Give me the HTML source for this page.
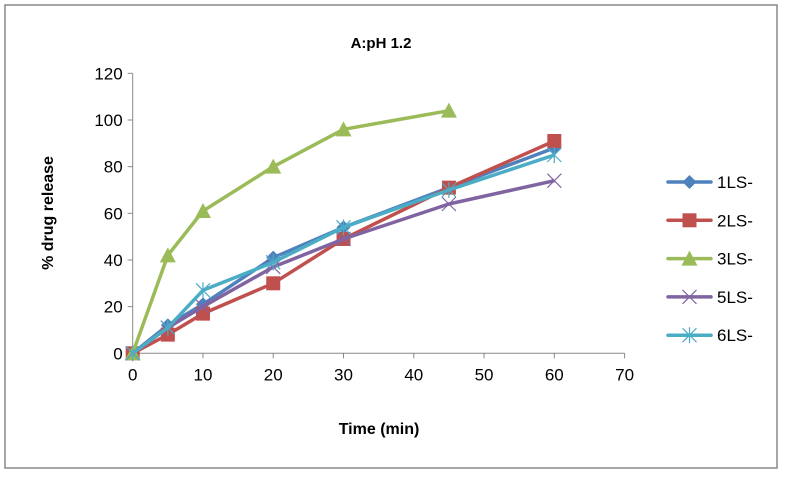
<!DOCTYPE html>
<html><head><meta charset="utf-8"><style>
body{margin:0;background:#fff;font-family:"Liberation Sans",Arial,sans-serif}
svg text{font-family:"Liberation Sans",Arial,sans-serif}
</style></head><body>
<svg id="chart" width="786" height="475">
<rect x="5" y="5" width="772" height="463" fill="#fff" stroke="#888" stroke-width="1.5"/>
<text x="381" y="48" text-anchor="middle" font-size="15" font-weight="bold">A:pH 1.2</text>
<text x="379" y="434" text-anchor="middle" font-size="16" font-weight="bold">Time (min)</text>
<text transform="translate(53,213) rotate(-90)" text-anchor="middle" font-size="16" font-weight="bold">% drug release</text>
<g id="axes"></g><g id="series"></g><g id="legend"></g>
</svg>
<script>
const xTicks=[0,10,20,30,40,50,60,70];
const yTicks=[0,20,40,60,80,100,120];
const names=["1LS-","2LS-","3LS-","5LS-","6LS-"];
const times=[0,5,10,20,30,45,60];
const s1=[0,12,21,41,54,71,88];
const s2=[0,8,17,30,49,71,91];
const s3=[0,42,61,80,96,104];
const s5=[0,11,20,37,49,64,74];
const s6=[0,11,27,39,54,70,85];
const colors=["#4f81bd","#c0504d","#9bbb59","#8064a2","#4bacc6"];
const markers=["diamond","square","triangle","x","star"];
const NS="http://www.w3.org/2000/svg";
const X=v=>132.7+v*7.027, Y=v=>353.3-v*2.333;
function mk(t,a,p){const e=document.createElementNS(NS,t);for(const k in a)e.setAttribute(k,a[k]);p.appendChild(e);return e;}
const ax=document.getElementById('axes');
const yl=mk('line',{x1:X(0),y1:Y(0),x2:X(0),y2:Y(120),stroke:'#888'},ax);


const xl=mk('line',{x1:X(0),y1:Y(0),x2:X(70),y2:Y(0),stroke:'#888'},ax);


yTicks.forEach(v=>{mk('line',{x1:X(0)-5,x2:X(0),y1:Y(v),y2:Y(v),stroke:'#888'},ax);
const t=mk('text',{x:X(0)-10,y:Y(v)+6,'text-anchor':'end','font-size':17},ax);t.textContent=v;

});
xTicks.forEach(v=>{mk('line',{x1:X(v),x2:X(v),y1:Y(0),y2:Y(0)+5,stroke:'#888'},ax);
const t=mk('text',{x:X(v),y:Y(0)+27,'text-anchor':'middle','font-size':17},ax);t.textContent=v;

});
function marker(g,type,x,y,c){
 if(type=="diamond")mk('polygon',{points:`${x},${y-7} ${x+7},${y} ${x},${y+7} ${x-7},${y}`,fill:c},g);
 else if(type=="square")mk('rect',{x:x-7,y:y-7,width:14,height:14,fill:c},g);
 else if(type=="triangle")mk('polygon',{points:`${x},${y-8} ${x+8},${y+7} ${x-8},${y+7}`,fill:c},g);
 else if(type=="x"){mk('path',{d:`M${x-7} ${y-7}L${x+7} ${y+7}M${x-7} ${y+7}L${x+7} ${y-7}`,stroke:c,'stroke-width':1.2},g);}
 else {mk('path',{d:`M${x-7} ${y-7}L${x+7} ${y+7}M${x-7} ${y+7}L${x+7} ${y-7}M${x} ${y-8}L${x} ${y+8}`,stroke:c,'stroke-width':1.2},g);}
}
const sg=document.getElementById('series');
[s1,s2,s3,s5,s6].forEach((d,i)=>{
 const g=mk('g',{},sg);
 
 
 mk('polyline',{points:d.map((v,j)=>X(times[j])+','+Y(v)).join(' '),fill:'none',stroke:colors[i],'stroke-width':3.5,'stroke-linejoin':'round'},g);
 d.forEach((v,j)=>marker(g,markers[i],X(times[j]),Y(v),colors[i]));
});
const lg=document.getElementById('legend');
names.forEach((n,i)=>{const y=182+i*38.3;
 const g=mk('g',{},lg);
 
 
 mk('line',{x1:668,x2:711,y1:y,y2:y,stroke:colors[i],'stroke-width':3.5,'stroke-linecap':'round'},g);
 marker(g,markers[i],689.5,y,colors[i]);
 const t=mk('text',{x:717,y:y+6,'font-size':17},g);t.textContent=n;
});
</script>
</body></html>
